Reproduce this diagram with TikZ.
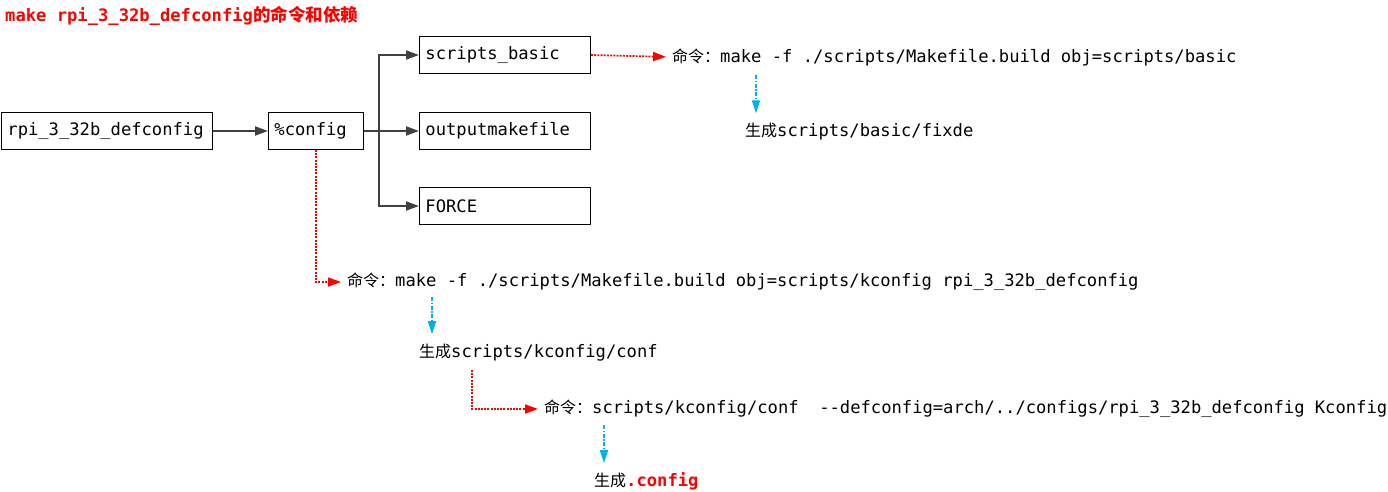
\documentclass[tikz,border=0pt]{standalone}
\usepackage{fontspec}
\setmonofont{DejaVu Sans Mono}
\newfontfamily\cjk{Noto Sans CJK SC}
\usetikzlibrary{arrows.meta,calc}
\definecolor{darkline}{HTML}{404040}
\definecolor{redline}{HTML}{FF0000}
\definecolor{blueline}{HTML}{00B0F0}
\newcommand{\cn}[1]{{\cjk\fontsize{16}{18}\selectfont #1}}
\tikzset{
  box/.style={draw=black, line width=0.9pt, minimum height=37pt, inner xsep=6pt, inner ysep=0pt,
    anchor=west, align=left, font=\ttfamily\fontsize{17.15}{20}\selectfont},
  txt/.style={inner sep=0pt, anchor=west, font=\ttfamily\fontsize{17.15}{20}\selectfont},
  grayarrow/.style={draw=darkline, line width=2pt, -{Triangle[length=13pt,width=9pt]}},
  redarrow/.style={draw=redline, line width=1.7pt, dash pattern=on 2pt off 1.2pt,
    -{Triangle[length=13pt,width=9pt,fill=redline]}, shorten >=6pt},
  bluearrow/.style={draw=blueline, line width=1.7pt, dash pattern=on 4pt off 1.5pt on 1.5pt off 1.5pt,
    -{Triangle[length=13pt,width=8pt,fill=blueline]}},
}
\begin{document}
\begin{tikzpicture}[x=1pt,y=-1pt]
\useasboundingbox (0,0) rectangle (1388,491);

% title
\node[txt, text=redline] (title) at (5,16)
  {\textbf{make rpi\_3\_32b\_defconfig}{\cjk\fontsize{17.5}{20}\selectfont\bfseries 的命令和依赖}};

% boxes
\node[box, minimum width=211pt, text width=199pt] (rpi) at (1,131) {rpi\_3\_32b\_defconfig};
\node[box, minimum width=95pt, text width=83pt] (cfg) at (268,131) {\%config};
\node[box, minimum width=171pt, text width=159pt] (sb) at (419,55) {scripts\_basic};
\node[box, minimum width=171pt, text width=159pt] (out) at (419,131) {outputmakefile};
\node[box, minimum width=171pt, text width=159pt] (force) at (419,206) {FORCE};

% texts
\node[txt] (cmd1) at (672,57) {\cn{命令：}make -f ./scripts/Makefile.build obj=scripts/basic};
\node[txt] (gen1) at (745,132) {\cn{生成}scripts/basic/fixde};
\node[txt] (cmd2) at (347,282) {\cn{命令：}make -f ./scripts/Makefile.build obj=scripts/kconfig rpi\_3\_32b\_defconfig};
\node[txt] (gen2) at (419,353) {\cn{生成}scripts/kconfig/conf};
\node[txt] (cmd3) at (544,409) {\cn{命令：}scripts/kconfig/conf\ \ --defconfig=arch/../configs/rpi\_3\_32b\_defconfig Kconfig};
\node[txt] (gen3) at (594,481) {\cn{生成}{\bfseries\color{redline}.config}};

% gray connectors
\draw[grayarrow] (rpi.east) -- (cfg.west);
\draw[grayarrow] (cfg.east) -- (out.west);
\draw[grayarrow] (cfg.east) -- ++(15,0) |- (sb.west);
\draw[grayarrow] (cfg.east) -- ++(15,0) |- (force.west);

% red dotted connectors
\draw[redarrow] (sb.east) -- (cmd1.west);
\draw[redarrow] (cfg.south) |- (cmd2.west);
\coordinate (r3) at (472,370);
\draw[redarrow] (r3) |- (cmd3.west);

% blue dashed connectors
\coordinate (b1) at (756,75);
\draw[bluearrow, shorten >=10pt] (b1) -- (b1 |- gen1.north);
\coordinate (b2) at (432,297);
\draw[bluearrow, shorten >=10pt] (b2) -- (b2 |- gen2.north);
\coordinate (b3) at (604,425);
\draw[bluearrow, shorten >=9pt] (b3) -- (b3 |- gen3.north);
\end{tikzpicture}
\end{document}
